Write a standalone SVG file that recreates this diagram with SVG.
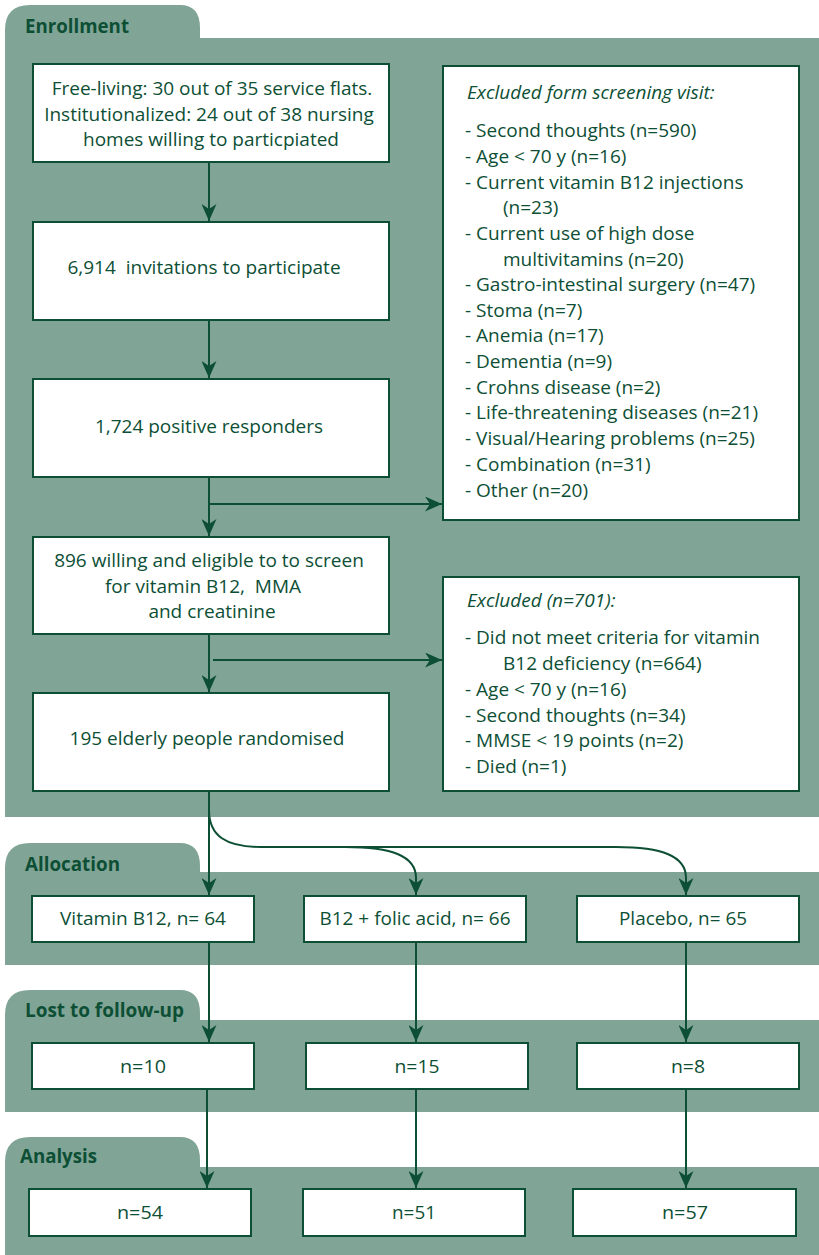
<svg xmlns="http://www.w3.org/2000/svg" width="819" height="1255" viewBox="0 0 819 1255">
  <style>
    .panel { fill: #80a596; }
    .box { fill: #ffffff; stroke: #0d4f35; stroke-width: 2; }
    .txt { font-family: "Open Sans", "Noto Sans", "Liberation Sans", sans-serif; font-size: 19px; fill: #0d4f35; }
    .mid { text-anchor: middle; }
    .ital { font-style: italic; }
    .narrow { font-family: "Open Sans", "Liberation Sans", sans-serif; font-size: 19px; fill: #0d4f35; text-anchor: middle; }
    .head { font-family: "Open Sans", "Liberation Sans", sans-serif; font-size: 19px; font-weight: bold; fill: #0d4f35; }
    .link { fill: none; stroke: #0d4f35; stroke-width: 2; }
  </style>
  <defs>
    <marker id="arrow" viewBox="0 0 17 15" refX="17" refY="7.5" markerWidth="17" markerHeight="15" markerUnits="userSpaceOnUse" orient="auto">
      <path d="M0,0 L17,7.5 L0,15 L5,7.5 Z" fill="#0d4f35"/>
    </marker>
  </defs>

  <rect width="819" height="1255" fill="#ffffff"/>

  <!-- Section panels with tabs -->
  <g id="enrollment-panel">
    <path class="panel" d="M5,38 L5,30 Q5,5 30,5 L180,5 Q200,5 200,28 L200,38 L819,38 L819,817 L5,817 Z"/>
    <text class="head" x="25" y="33" textLength="104" lengthAdjust="spacingAndGlyphs">Enrollment</text>
  </g>
  <g id="allocation-panel">
    <path class="panel" d="M5,872 L5,868 Q5,843 30,843 L180,843 Q200,843 200,866 L200,872 L819,872 L819,965 L5,965 Z"/>
    <text class="head" x="25" y="871" textLength="95" lengthAdjust="spacingAndGlyphs">Allocation</text>
  </g>
  <g id="followup-panel">
    <path class="panel" d="M5,1020 L5,1015 Q5,990 30,990 L180,990 Q200,990 200,1013 L200,1020 L819,1020 L819,1112 L5,1112 Z"/>
    <text class="head" x="25" y="1017" textLength="159" lengthAdjust="spacingAndGlyphs">Lost to follow-up</text>
  </g>
  <g id="analysis-panel">
    <path class="panel" d="M5,1167 L5,1162 Q5,1137 30,1137 L180,1137 Q200,1137 200,1160 L200,1167 L819,1167 L819,1255 L5,1255 Z"/>
    <text class="head" x="20" y="1163" textLength="77" lengthAdjust="spacingAndGlyphs">Analysis</text>
  </g>

  <!-- Connectors -->
  <g id="connectors">
    <line class="link" x1="209" y1="162" x2="209" y2="221" marker-end="url(#arrow)"/>
    <line class="link" x1="209" y1="320" x2="209" y2="378" marker-end="url(#arrow)"/>
    <line class="link" x1="209" y1="477" x2="209" y2="536" marker-end="url(#arrow)"/>
    <line class="link" x1="209" y1="504" x2="442" y2="504" marker-end="url(#arrow)"/>
    <line class="link" x1="209" y1="634" x2="209" y2="692" marker-end="url(#arrow)"/>
    <line class="link" x1="213" y1="660" x2="442" y2="660" marker-end="url(#arrow)"/>
    <line class="link" x1="209" y1="791" x2="209" y2="895" marker-end="url(#arrow)"/>
    <path class="link" d="M209,810 C209,836 226,847 261,847 L616,847 C662,847 686,856 686,878 L686,895" marker-end="url(#arrow)"/>
    <path class="link" d="M345,847 C392,847 416,856 416,878 L416,895" marker-end="url(#arrow)"/>
    <line class="link" x1="209" y1="942" x2="209" y2="1042" marker-end="url(#arrow)"/>
    <line class="link" x1="416" y1="942" x2="416" y2="1042" marker-end="url(#arrow)"/>
    <line class="link" x1="686" y1="942" x2="686" y2="1042" marker-end="url(#arrow)"/>
    <line class="link" x1="207" y1="1089" x2="207" y2="1188" marker-end="url(#arrow)"/>
    <line class="link" x1="416" y1="1089" x2="416" y2="1188" marker-end="url(#arrow)"/>
    <line class="link" x1="686" y1="1089" x2="686" y2="1188" marker-end="url(#arrow)"/>
  </g>

  <!-- Enrollment column -->
  <g id="sites">
    <rect class="box" x="33" y="64" width="356" height="98"/>
    <text class="txt mid" x="212" y="95">Free-living: 30 out of 35 service flats.</text>
    <text class="txt mid" x="209" y="121">Institutionalized: 24 out of 38 nursing</text>
    <text class="txt mid" x="211" y="146">homes willing to particpiated</text>
  </g>
  <g id="invitations">
    <rect class="box" x="33" y="222" width="356" height="98"/>
    <text class="txt mid" x="204" y="274" xml:space="preserve">6,914  invitations to participate</text>
  </g>
  <g id="responders">
    <rect class="box" x="33" y="379" width="356" height="98"/>
    <text class="txt mid" x="209" y="433">1,724 positive responders</text>
  </g>
  <g id="eligible">
    <rect class="box" x="33" y="537" width="356" height="97"/>
    <text class="txt mid" x="209" y="567">896 willing and eligible to to screen</text>
    <text class="txt mid" x="203" y="593" xml:space="preserve">for vitamin B12,  MMA</text>
    <text class="txt mid" x="212" y="618">and creatinine</text>
  </g>
  <g id="randomised">
    <rect class="box" x="33" y="693" width="356" height="98"/>
    <text class="txt mid" x="207" y="745">195 elderly people randomised</text>
  </g>

  <!-- Exclusion boxes -->
  <g id="excluded-screening">
    <rect class="box" x="443" y="66" width="356" height="454"/>
    <text class="txt ital" x="467" y="99">Excluded form screening visit:</text>
    <text class="txt" x="465" y="137">- Second thoughts (n=590)</text>
    <text class="txt" x="465" y="163">- Age &lt; 70 y (n=16)</text>
    <text class="txt" x="465" y="189">- Current vitamin B12 injections</text>
    <text class="txt" x="503" y="214">(n=23)</text>
    <text class="txt" x="465" y="240">- Current use of high dose</text>
    <text class="txt" x="503" y="266">multivitamins (n=20)</text>
    <text class="txt" x="465" y="291">- Gastro-intestinal surgery (n=47)</text>
    <text class="txt" x="465" y="317">- Stoma (n=7)</text>
    <text class="txt" x="465" y="342">- Anemia (n=17)</text>
    <text class="txt" x="465" y="368">- Dementia (n=9)</text>
    <text class="txt" x="465" y="394">- Crohns disease (n=2)</text>
    <text class="txt" x="465" y="419">- Life-threatening diseases (n=21)</text>
    <text class="txt" x="465" y="445">- Visual/Hearing problems (n=25)</text>
    <text class="txt" x="465" y="471">- Combination (n=31)</text>
    <text class="txt" x="465" y="497">- Other (n=20)</text>
  </g>
  <g id="excluded-deficiency">
    <rect class="box" x="443" y="577" width="356" height="214"/>
    <text class="txt ital" x="467" y="607">Excluded (n=701):</text>
    <text class="txt" x="465" y="644">- Did not meet criteria for vitamin</text>
    <text class="txt" x="503" y="670">B12 deficiency (n=664)</text>
    <text class="txt" x="465" y="696">- Age &lt; 70 y (n=16)</text>
    <text class="txt" x="465" y="722">- Second thoughts (n=34)</text>
    <text class="txt" x="465" y="747">- MMSE &lt; 19 points (n=2)</text>
    <text class="txt" x="465" y="773">- Died (n=1)</text>
  </g>

  <!-- Allocation -->
  <g id="alloc-b12">
    <rect class="box" x="32" y="896" width="222" height="46"/>
    <text class="narrow" x="143" y="925" textLength="166" lengthAdjust="spacingAndGlyphs">Vitamin B12, n= 64</text>
  </g>
  <g id="alloc-folic">
    <rect class="box" x="304" y="896" width="222" height="46"/>
    <text class="narrow" x="415" y="925" textLength="191" lengthAdjust="spacingAndGlyphs">B12 + folic acid, n= 66</text>
  </g>
  <g id="alloc-placebo">
    <rect class="box" x="577" y="896" width="222" height="46"/>
    <text class="narrow" x="683" y="925" textLength="128" lengthAdjust="spacingAndGlyphs">Placebo, n= 65</text>
  </g>

  <!-- Lost to follow-up -->
  <g id="lost-b12">
    <rect class="box" x="32" y="1043" width="222" height="46"/>
    <text class="narrow" x="143" y="1073" textLength="46" lengthAdjust="spacingAndGlyphs">n=10</text>
  </g>
  <g id="lost-folic">
    <rect class="box" x="306" y="1043" width="222" height="46"/>
    <text class="narrow" x="417" y="1073" textLength="45" lengthAdjust="spacingAndGlyphs">n=15</text>
  </g>
  <g id="lost-placebo">
    <rect class="box" x="577" y="1043" width="222" height="46"/>
    <text class="narrow" x="688" y="1073" textLength="34" lengthAdjust="spacingAndGlyphs">n=8</text>
  </g>

  <!-- Analysis -->
  <g id="analysed-b12">
    <rect class="box" x="29" y="1189" width="222" height="47"/>
    <text class="narrow" x="140" y="1219" textLength="46" lengthAdjust="spacingAndGlyphs">n=54</text>
  </g>
  <g id="analysed-folic">
    <rect class="box" x="303" y="1189" width="222" height="47"/>
    <text class="narrow" x="414" y="1219" textLength="44" lengthAdjust="spacingAndGlyphs">n=51</text>
  </g>
  <g id="analysed-placebo">
    <rect class="box" x="573" y="1189" width="223" height="47"/>
    <text class="narrow" x="685" y="1219" textLength="46" lengthAdjust="spacingAndGlyphs">n=57</text>
  </g>
</svg>
